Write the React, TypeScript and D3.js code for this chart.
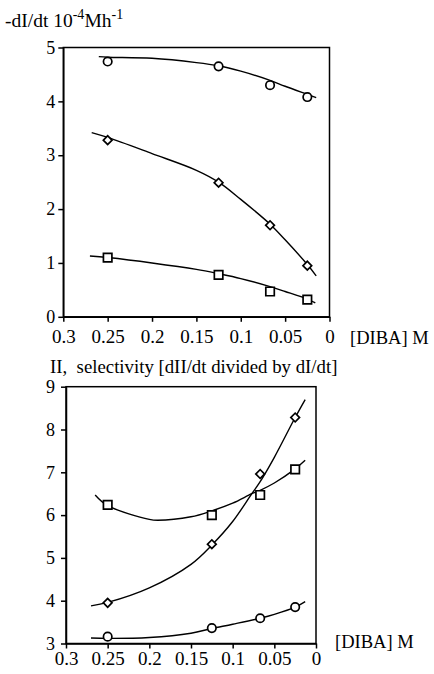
import React, { useEffect, useRef } from 'react';
import * as d3 from 'd3';

// measured [DIBA] concentrations (M)
const conc = [0.25, 0.125, 0.067, 0.025];

// top panel: -dI/dt, 10^-4 M h^-1
const rateCircle = [4.74, 4.65, 4.3, 4.08];
const rateDiamond = [3.28, 2.49, 1.7, 0.95];
const rateSquare = [1.1, 0.78, 0.47, 0.32];

// bottom panel: selectivity
const selCircle = [3.16, 3.36, 3.59, 3.85];
const selDiamond = [3.95, 5.32, 6.96, 8.28];
const selSquare = [6.24, 6.0, 6.47, 7.07];

// fitted curves
const fitTopCircleX = [0.26, 0.25, 0.2, 0.15, 0.125, 0.1, 0.067, 0.05, 0.025, 0.015];
const fitTopCircleY = [4.83, 4.82, 4.8, 4.72, 4.66, 4.56, 4.39, 4.28, 4.13, 4.07];
const fitTopDiamondX = [0.268, 0.25, 0.2, 0.15, 0.125, 0.1, 0.067, 0.05, 0.025, 0.015];
const fitTopDiamondY = [3.42, 3.33, 3.03, 2.72, 2.5, 2.18, 1.72, 1.43, 0.97, 0.76];
const fitTopSquareX = [0.27, 0.25, 0.2, 0.15, 0.125, 0.1, 0.067, 0.05, 0.025, 0.016];
const fitTopSquareY = [1.13, 1.1, 1.0, 0.88, 0.8, 0.71, 0.56, 0.47, 0.33, 0.26];

const fitBotCircleX = [0.27, 0.25, 0.2, 0.15, 0.125, 0.1, 0.067, 0.05, 0.025, 0.013];
const fitBotCircleY = [3.13, 3.12, 3.14, 3.24, 3.35, 3.45, 3.59, 3.68, 3.85, 3.98];
const fitBotDiamondX = [0.27, 0.25, 0.2, 0.15, 0.125, 0.1, 0.077, 0.067, 0.05, 0.025, 0.013];
const fitBotDiamondY = [3.88, 3.96, 4.3, 4.85, 5.3, 5.85, 6.5, 6.78, 7.35, 8.28, 8.7];
const fitBotSquareX = [0.265, 0.25, 0.2, 0.19, 0.15, 0.125, 0.1, 0.077, 0.067, 0.05, 0.025, 0.013];
const fitBotSquareY = [6.47, 6.22, 5.9, 5.88, 5.96, 6.1, 6.28, 6.5, 6.58, 6.75, 7.08, 7.28];

const xTicks = [0.3, 0.25, 0.2, 0.15, 0.1, 0.05, 0];
const yTicksTop = [0, 1, 2, 3, 4, 5];
const yTicksBot = [3, 4, 5, 6, 7, 8, 9];

const FONT = '"Liberation Serif", "Times New Roman", serif';

const App = () => {
  const ref = useRef<SVGSVGElement>(null);

  useEffect(() => {
    const svg = d3.select(ref.current);
    svg.selectAll('*').remove();

    const panel = (opts) => {
      const { x0, x1, yTop, yBot, yDomain, yTicks, padX, padY, series, fits } = opts;
      const x = d3.scaleLinear().domain([0.3, 0]).range([x0, x1]);
      const y = d3.scaleLinear().domain(yDomain).range([yBot, yTop]);
      const g = svg.append('g');

      // frame
      g.append('rect')
        .attr('x', x0).attr('y', yTop)
        .attr('width', x1 - x0).attr('height', yBot - yTop)
        .attr('fill', 'none').attr('stroke', '#000').attr('stroke-width', 1.5);

      const xa = g.append('g')
        .attr('transform', `translate(0,${yBot})`)
        .call(d3.axisBottom(x).tickValues(xTicks).tickSize(5).tickSizeOuter(0)
          .tickPadding(padX).tickFormat(d => String(d)));
      const ya = g.append('g')
        .attr('transform', `translate(${x0},0)`)
        .call(d3.axisLeft(y).tickValues(yTicks).tickSize(5).tickSizeOuter(0)
          .tickPadding(padY).tickFormat(d => String(d)));
      [xa, ya].forEach(a => {
        a.selectAll('path,line').attr('stroke', '#000').attr('stroke-width', 1.5);
        a.selectAll('text').attr('font-family', FONT).attr('fill', '#000');
      });
      xa.selectAll('text').attr('font-size', 19);
      ya.selectAll('text').attr('font-size', 18);

      const line = d3.line<[number, number]>()
        .x(d => x(d[0])).y(d => y(d[1]))
        .curve(d3.curveCatmullRom.alpha(0.5));
      fits.forEach(([fx, fy]) => {
        g.append('path')
          .attr('d', line(fx.map((v, i) => [v, fy[i]])))
          .attr('fill', 'none').attr('stroke', '#000').attr('stroke-width', 1.4);
      });

      series.forEach(([vals, kind]) => {
        const sym = kind === 'circle'
          ? d3.symbol(d3.symbolCircle, 56)
          : d3.symbol(d3.symbolSquare, kind === 'square' ? 72 : 38);
        g.selectAll(null)
          .data(conc.map((c, i) => [c, vals[i]]))
          .enter()
          .append('path')
          .attr('d', sym())
          .attr('transform', d => `translate(${x(d[0])},${y(d[1])})${kind === 'diamond' ? ' rotate(45)' : ''}`)
          .attr('fill', '#fff').attr('stroke', '#000').attr('stroke-width', 1.7);
      });
    };

    panel({
      x0: 63.3, x1: 329.5, yTop: 47.5, yBot: 316.8, yDomain: [0, 5], yTicks: yTicksTop,
      padX: 8, padY: 3,
      fits: [[fitTopCircleX, fitTopCircleY], [fitTopDiamondX, fitTopDiamondY], [fitTopSquareX, fitTopSquareY]],
      series: [[rateCircle, 'circle'], [rateDiamond, 'diamond'], [rateSquare, 'square']],
    });
    panel({
      x0: 66, x1: 316, yTop: 386.7, yBot: 643.5, yDomain: [3, 9], yTicks: yTicksBot,
      padX: 3, padY: 6,
      fits: [[fitBotCircleX, fitBotCircleY], [fitBotDiamondX, fitBotDiamondY], [fitBotSquareX, fitBotSquareY]],
      series: [[selCircle, 'circle'], [selDiamond, 'diamond'], [selSquare, 'square']],
    });

    const txt = (x, y, s, size = 19) => svg.append('text')
      .attr('x', x).attr('y', y).attr('font-family', FONT).attr('font-size', size).text(s);

    const title = txt(5, 27, '-dI/dt 10', 19.5);
    title.append('tspan').attr('dy', -8).attr('font-size', 14).text('-4');
    title.append('tspan').attr('dy', 8).text('Mh');
    title.append('tspan').attr('dy', -8).attr('font-size', 14).text('-1');

    txt(350, 344, '[DIBA] M', 18.5);
    txt(50, 373, 'II,  selectivity [dII/dt divided by dI/dt]', 18.8).attr('xml:space', 'preserve');
    txt(335, 648, '[DIBA] M', 18.5);
  }, []);

  return (
    <svg ref={ref} width={434} height={674}
      style={{ position: 'absolute', left: 0, top: 0, background: '#fff' }} />
  );
};

export default App;
